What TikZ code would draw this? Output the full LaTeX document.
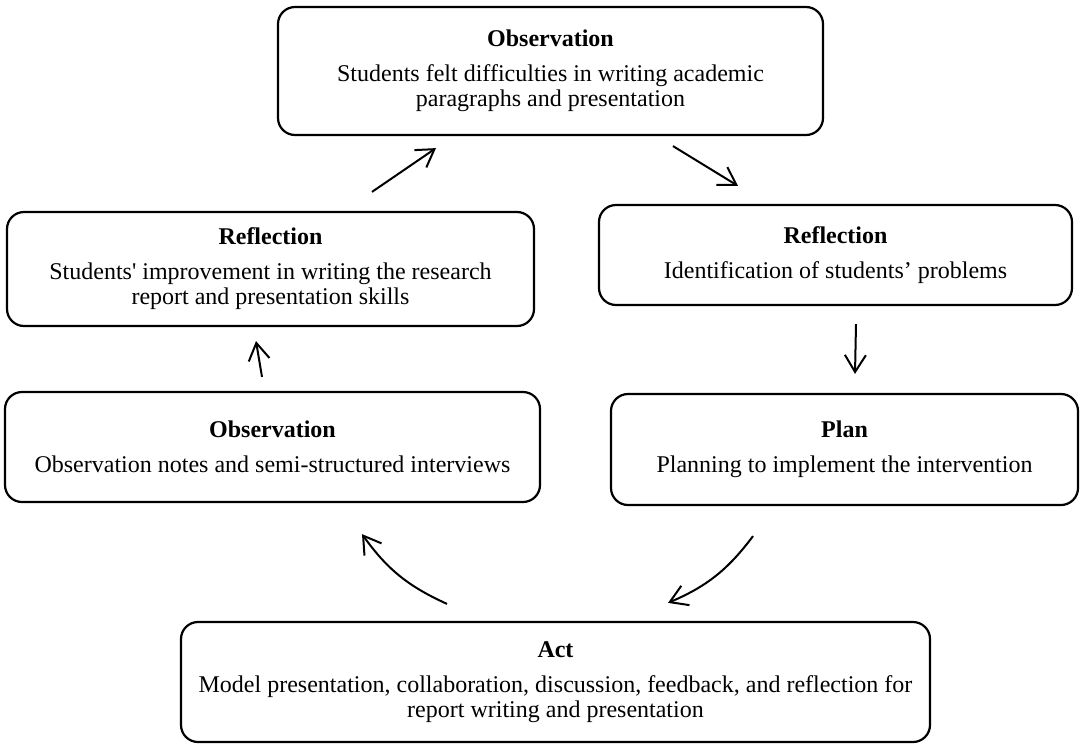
\documentclass[tikz,border=0pt]{standalone}
\usepackage{fontspec}
\setmainfont{Liberation Serif}
\usetikzlibrary{arrows.meta}

\tikzset{
  stage/.style={draw=black, line width=2.2pt, rounded corners=17pt, align=center,
    inner sep=0pt, font=\fontsize{24}{25}\selectfont},
  arr/.style={line width=2pt, -{Straight Barb[length=17pt,width=21pt,line width=2pt]}}
}

\begin{document}
\begin{tikzpicture}[x=1pt,y=-1pt]
  \useasboundingbox (0,0) rectangle (1081,744);

  % Stages of the cycle
  \node[stage, minimum width=545pt, minimum height=128pt] (top) at (550.5,71)
    {\textbf{Observation}\\[10pt]Students felt difficulties in writing academic\\paragraphs and presentation};
  \node[stage, minimum width=527pt, minimum height=114pt] (refL) at (270.5,269)
    {\textbf{Reflection}\\[10pt]Students\textquotesingle{} improvement in writing the research\\report and presentation skills};
  \node[stage, minimum width=473pt, minimum height=100pt] (refR) at (835.5,255)
    {\textbf{Reflection}\\[10pt]Identification of students’ problems};
  \node[stage, minimum width=535pt, minimum height=110pt] (obsL) at (272.5,447)
    {\textbf{Observation}\\[10pt]Observation notes and semi-structured interviews};
  \node[stage, minimum width=467pt, minimum height=111pt] (plan) at (844.5,449.5)
    {\textbf{Plan}\\[10pt]Planning to implement the intervention};
  \node[stage, minimum width=749pt, minimum height=120pt] (act) at (555.5,682)
    {\textbf{Act}\\[10pt]Model presentation, collaboration, discussion, feedback, and reflection for\\report writing and presentation};

  % Arrows
  \draw[arr] ([shift={(101.5,-19)}]refL.north) -- ([shift={(-114.5,12)}]top.south);
  \draw[arr] ([shift={(122.5,10)}]top.south) -- ([shift={(-97.5,-18)}]refR.north);
  \draw[arr] ([shift={(20.5,18)}]refR.south) -- ([shift={(10.5,-19)}]plan.north);
  \draw[arr] ([shift={(-10.5,-14)}]obsL.north) -- ([shift={(-14.5,14)}]refL.south);
  \draw[arr] ([shift={(-91.5,30)}]plan.south) to[bend left=15] ([shift={(112.5,-18)}]act.north);
  \draw[arr] ([shift={(-108.5,-17)}]act.north) to[bend left=15] ([shift={(89.5,31)}]obsL.south);
\end{tikzpicture}
\end{document}
